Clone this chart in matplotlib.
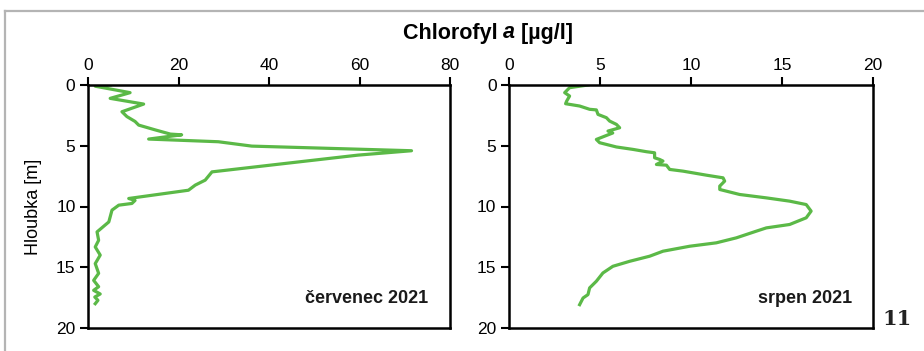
import matplotlib
matplotlib.use("Agg")
import matplotlib.pyplot as plt
from matplotlib.lines import Line2D
from matplotlib import font_manager

# ---------------- data ----------------
july_chl = [4.9, 1.6, 9.3, 4.9, 12.3, 7.5, 8.6, 10.4, 11.2, 14.9, 18.2, 20.7, 13.4,
            28.8, 36.2, 71.5, 59.7, 43.5, 27.4, 25.9, 23.7, 22.2, 9.0, 10.4, 9.7, 6.8,
            5.3, 4.6, 2.0, 2.35, 1.6, 2.7, 1.6, 2.35, 1.25, 2.35, 1.25, 2.7, 1.5, 2.2, 1.6]
july_depth = [0.0, 0.1, 0.63, 1.1, 1.57, 2.2, 2.6, 3.0, 3.3, 3.7, 4.04, 4.1, 4.45,
              4.67, 5.03, 5.41, 5.77, 6.46, 7.15, 7.83, 8.24, 8.66, 9.34, 9.5, 9.75, 9.89,
              10.3, 11.27, 12.09, 12.78, 13.33, 14.0, 14.7, 15.5, 16.08, 16.6, 16.9, 17.2, 17.45, 17.72, 18.0]

aug_chl = [4.34, 3.33, 3.06, 3.33, 3.17, 3.11, 3.88, 4.43, 4.8, 4.89, 5.35, 5.53, 5.9,
           6.08, 5.44, 5.7, 4.8, 4.98, 5.9, 6.81, 7.55, 8.0, 8.0, 8.28, 8.46, 8.1, 8.65,
           8.83, 9.56, 10.84, 11.76, 11.85, 11.58, 11.58, 12.67, 14.14, 15.42, 16.33,
           16.6, 16.33, 15.42, 14.14, 13.59, 12.49, 11.39, 9.93, 8.46, 7.73, 6.63, 5.71,
           5.16, 4.8, 4.43, 4.34, 4.07, 3.88]
aug_depth = [0.0, 0.22, 0.63, 0.91, 1.32, 1.54, 1.73, 2.0, 2.05, 2.42, 2.69, 2.97, 3.24,
             3.52, 3.79, 3.95, 4.48, 4.75, 5.1, 5.3, 5.49, 5.58, 5.99, 6.13, 6.26, 6.54, 6.6,
             6.95, 7.09, 7.42, 7.64, 7.91, 8.32, 8.6, 9.01, 9.29, 9.56, 9.84,
             10.38, 10.93, 11.48, 11.76, 12.03, 12.58, 12.99, 13.27, 13.68, 14.09, 14.51, 14.92,
             15.47, 16.15, 16.7, 17.25, 17.53, 18.08]

july_xticks = [0, 20, 40, 60, 80]
aug_xticks = [0, 5, 10, 15, 20]
depth_ticks = [0, 5, 10, 15, 20]

title_parts = ["Chlorofyl ", "a", " [µg/l]"]
ylabel = "Hloubka [m]"
panel_labels = ["červenec 2021", "srpen 2021"]
page_number = "11"

# ---------------- style ----------------
names = {f.name for f in font_manager.fontManager.ttflist}
narrow = "Liberation Sans Narrow" if "Liberation Sans Narrow" in names else "Liberation Sans"
plt.rcParams['font.family'] = [narrow, 'DejaVu Sans']

green = '#5BB947'
fig = plt.figure(figsize=(9.24, 3.51), dpi=100)
fig.patch.set_facecolor('white')

# gray page frame (top and left)
fig.add_artist(Line2D([5/924, 1.0], [1 - 11/351, 1 - 11/351], color='#b4b4b4', lw=1.6,
                      transform=fig.transFigure))
fig.add_artist(Line2D([5/924, 5/924], [0, 1 - 11/351], color='#b4b4b4', lw=1.6,
                      transform=fig.transFigure))

bottom = 1 - 328/351
height = 243/351
ax1 = fig.add_axes([88/924, bottom, 362/924, height])
ax2 = fig.add_axes([509/924, bottom, 364/924, height])

for ax, xs, ys, xt, lab, lx in [(ax1, july_chl, july_depth, july_xticks, panel_labels[0], 0.939),
                                (ax2, aug_chl, aug_depth, aug_xticks, panel_labels[1], 0.942)]:
    ax.plot(xs, ys, color=green, lw=2.3, solid_joinstyle='round')
    ax.set_xlim(xt[0], xt[-1])
    ax.set_ylim(20, 0)
    ax.set_xticks(xt)
    ax.set_yticks(depth_ticks)
    ax.xaxis.tick_top()
    ax.tick_params(axis='both', direction='out', length=6, width=1.5, labelsize=12.5,
                   colors='black', pad=3)
    for s in ax.spines.values():
        s.set_linewidth(1.8)
        s.set_color('black')
    ax.text(lx, 0.123, lab, transform=ax.transAxes, ha='right', va='center',
            fontsize=13, fontweight='bold', color='#1a1a1a')

ax1.set_ylabel(ylabel, fontsize=13, labelpad=10)

# title with italic "a"
fs = 15.5
t1 = fig.text(0, 1 - 33/351, title_parts[0], fontsize=fs, fontweight='bold',
              va='center', ha='left')
t2 = fig.text(0, 0, title_parts[1], fontsize=fs, fontweight='bold', fontstyle='italic')
t3 = fig.text(0, 0, title_parts[2], fontsize=fs, fontweight='bold')
fig.canvas.draw()
r = fig.canvas.get_renderer()
w1 = t1.get_window_extent(r).width
w2 = t2.get_window_extent(r).width
w3 = t3.get_window_extent(r).width
start = 488 - (w1 + w2 + w3) / 2
t1.set_position((start / 924, 1 - 33/351))
fig.canvas.draw()
bb = t1.get_window_extent(r)
t2.set_position((bb.x1 / 924, bb.y0 / 351))
t2.set_va('bottom')
fig.canvas.draw()
bb2 = t2.get_window_extent(r)
t3.set_position((bb2.x1 / 924, bb.y0 / 351))
t3.set_va('bottom')

fig.text(882/924, 1 - 319/351, page_number, fontsize=15, fontweight='bold',
         family='DejaVu Serif', ha='left', va='center', color='#222222')

fig.savefig('out.png', dpi=100, facecolor='white')
